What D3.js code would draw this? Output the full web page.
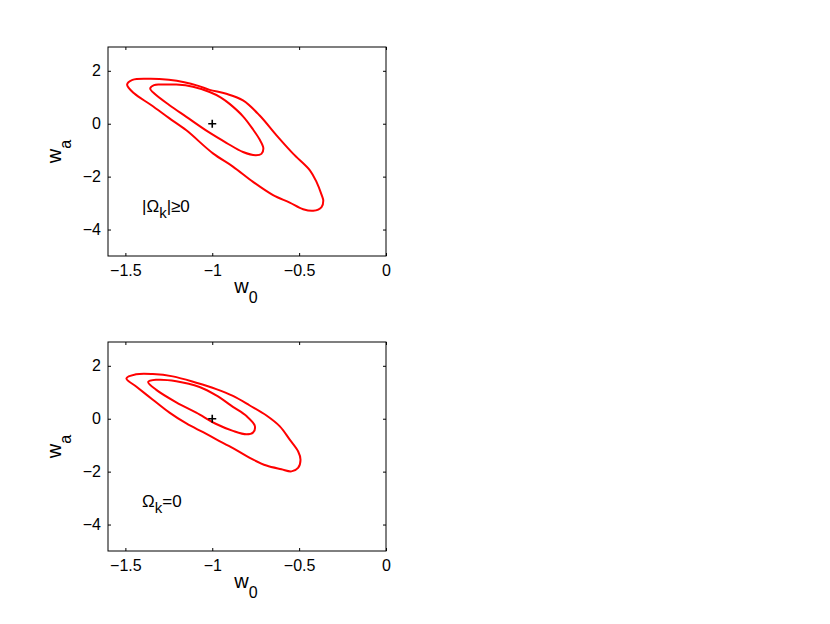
<!DOCTYPE html>
<html><head><meta charset="utf-8">
<script src="https://cdn.jsdelivr.net/npm/d3@7"></script>
<style>body{margin:0;background:#fff}svg{display:block}text{font-family:"Liberation Sans",Arial,sans-serif}</style>
</head><body><svg id="c" width="830" height="624"></svg>
<script>
const xTicks = [-1.5, -1, -0.5, 0];
const yTicks = [2, 0, -2, -4];
const xDomain = [-1.6, 0];
const yDomain = [-5, 2.9];
const bestFit = [-1, 0];

const topOuter = [[-1.490,1.48],[-1.459,1.66],[-1.354,1.70],[-1.25,1.66],[-1.161,1.57],[-1.08,1.43],[-1.015,1.28],[-0.919,1.13],[-0.823,0.88],[-0.727,0.31],[-0.630,-0.44],[-0.535,-1.13],[-0.438,-1.76],[-0.400,-2.20],[-0.370,-2.70],[-0.361,-2.90],[-0.371,-3.15],[-0.419,-3.29],[-0.477,-3.23],[-0.554,-2.98],[-0.650,-2.70],[-0.765,-2.20],[-0.881,-1.62],[-0.996,-1.12],[-1.149,-0.25],[-1.250,0.22],[-1.350,0.70],[-1.450,1.15]];
const topInner = [[-1.357,1.33],[-1.335,1.46],[-1.294,1.48],[-1.207,1.48],[-1.111,1.40],[-1.015,1.20],[-0.95,0.99],[-0.900,0.75],[-0.823,0.28],[-0.765,-0.22],[-0.727,-0.60],[-0.706,-0.92],[-0.717,-1.14],[-0.750,-1.19],[-0.823,-1.07],[-0.919,-0.72],[-1.020,-0.32],[-1.149,0.26],[-1.246,0.70],[-1.330,1.12]];
const botOuter = [[-1.494,1.52],[-1.438,1.68],[-1.342,1.69],[-1.227,1.60],[-1.092,1.36],[-0.977,1.12],[-0.881,0.86],[-0.784,0.50],[-0.688,0.12],[-0.611,-0.29],[-0.554,-0.79],[-0.506,-1.23],[-0.492,-1.55],[-0.506,-1.86],[-0.544,-1.99],[-0.602,-1.91],[-0.688,-1.77],[-0.784,-1.48],[-0.881,-1.11],[-0.977,-0.78],[-1.05,-0.52],[-1.149,-0.18],[-1.246,0.23],[-1.342,0.72],[-1.438,1.22]];
const botInner = [[-1.369,1.39],[-1.322,1.47],[-1.207,1.42],[-1.073,1.20],[-0.977,0.88],[-0.881,0.45],[-0.803,0.10],[-0.755,-0.27],[-0.765,-0.52],[-0.803,-0.59],[-0.881,-0.46],[-0.977,-0.20],[-1.092,0.23],[-1.207,0.62],[-1.322,1.09]];

const panels = [
  {top:47, contours:[topOuter, topInner]},
  {top:342, contours:[botOuter, botInner]}
];
const L = 108, W = 278, H = 209;
const svg = d3.select("#c");
const fmt = d => d3.format("")(d).replace("-", "\u2212");

panels.forEach((p, i) => {
  const g = svg.append("g").attr("transform", `translate(${L},${p.top})`);
  const x = d3.scaleLinear().domain(xDomain).range([0, W]);
  const y = d3.scaleLinear().domain(yDomain).range([H, 0]);
  const line = d3.line().x(d => x(d[0])).y(d => y(d[1])).curve(d3.curveCatmullRomClosed.alpha(0.5));
  p.contours.forEach(c => {
    g.append("path").attr("d", line(c)).attr("fill", "none").attr("stroke", "#ff0000").attr("stroke-width", 2).attr("stroke-linejoin", "round");
  });
  const ax = g.append("g").attr("transform", `translate(0,${H})`).call(d3.axisBottom(x).tickValues(xTicks).tickSize(-3).tickPadding(9).tickFormat(fmt));
  const axT = g.append("g").call(d3.axisTop(x).tickValues(xTicks).tickSize(-3).tickFormat(""));
  const ay = g.append("g").call(d3.axisLeft(y).tickValues(yTicks).tickSize(-3).tickPadding(7).tickFormat(fmt));
  const ayR = g.append("g").attr("transform", `translate(${W},0)`).call(d3.axisRight(y).tickValues(yTicks).tickSize(-3).tickFormat(""));
  [ax, axT, ay, ayR].forEach(a => {
    a.select(".domain").remove();
    a.selectAll("line").attr("stroke", "#000");
    a.selectAll("text").attr("font-size", 16).attr("fill", "#000").attr("font-family", "Liberation Sans, Arial, sans-serif");
  });
  g.append("rect").attr("width", W).attr("height", H).attr("fill", "none").attr("stroke", "#000").attr("stroke-width", 1);
  const cx = x(bestFit[0]), cy = y(bestFit[1]);
  g.append("path").attr("d", `M${cx-4},${cy}H${cx+4}M${cx},${cy-4}V${cy+4}`).attr("stroke", "#000").attr("stroke-width", 1.6);
  const xl = svg.append("text").attr("x", 246).attr("y", p.top + 246).attr("font-size", 20).attr("text-anchor", "middle");
  xl.append("tspan").text("w");
  xl.append("tspan").attr("font-size", 16).attr("dy", 10).text("0");
  const yl = svg.append("text").attr("transform", `translate(61,${p.top + 104.5}) rotate(-90)`).attr("font-size", 20).attr("text-anchor", "middle");
  yl.append("tspan").text("w");
  yl.append("tspan").attr("font-size", 16).attr("dy", 10).text("a");
  const an = svg.append("text").attr("x", 142).attr("y", p.top + 165).attr("font-size", 17);
  if (i === 0) {
    an.append("tspan").text("|\u03A9");
    an.append("tspan").attr("dy", 6).attr("font-size", 15).text("k");
    an.append("tspan").attr("dy", -6).text("|\u22650");
  } else {
    an.append("tspan").text("\u03A9");
    an.append("tspan").attr("dy", 6).attr("font-size", 15).text("k");
    an.append("tspan").attr("dy", -6).text("=0");
  }
});
</script></body></html>
